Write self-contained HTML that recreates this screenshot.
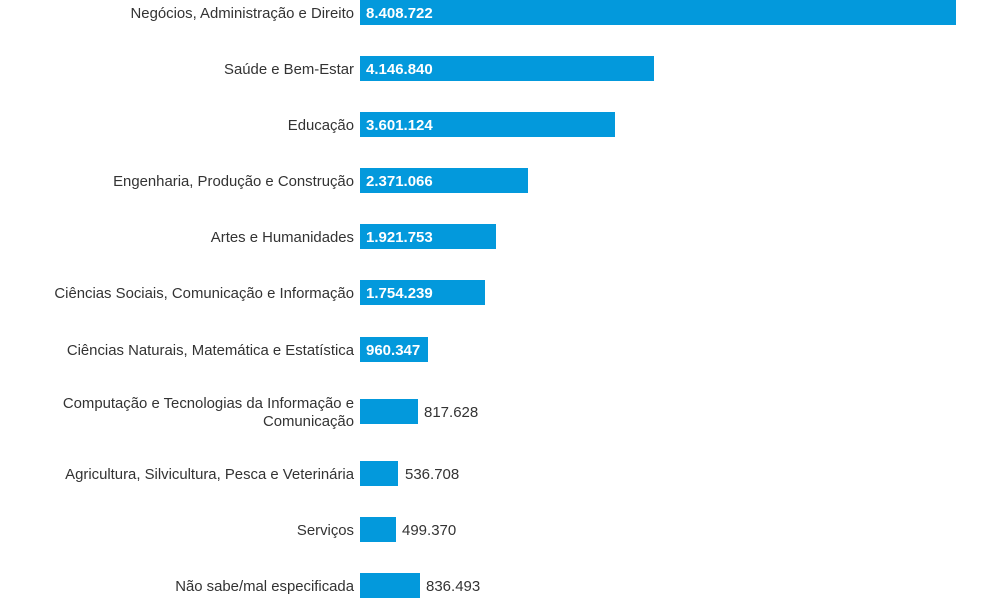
<!DOCTYPE html>
<html><head><meta charset="utf-8"><style>
body{margin:0;width:984px;height:612px;background:#fff;font-family:"Liberation Sans",sans-serif;position:relative;overflow:hidden}
.l{position:absolute;right:630px;font-size:14.9px;color:#333;text-align:right;line-height:18px;white-space:nowrap;margin-top:2px}
.b{position:absolute;left:360px;height:25px;background:#0399dc}
.v{position:absolute;font-size:15px;line-height:25px;margin-top:1px}
.in{color:#fff;font-weight:bold}
.out{color:#333}
</style></head><body>
<div class="b" style="top:0;width:596px"></div><div class="v in" style="top:0;left:366px">8.408.722</div><div class="l" style="top:3px">Negócios, Administração e Direito</div>
<div class="b" style="top:56px;width:294px"></div><div class="v in" style="top:56px;left:366px">4.146.840</div><div class="l" style="top:59px">Saúde e Bem-Estar</div>
<div class="b" style="top:112px;width:255px"></div><div class="v in" style="top:112px;left:366px">3.601.124</div><div class="l" style="top:115px">Educação</div>
<div class="b" style="top:168px;width:168px"></div><div class="v in" style="top:168px;left:366px">2.371.066</div><div class="l" style="top:171px">Engenharia, Produção e Construção</div>
<div class="b" style="top:224px;width:136px"></div><div class="v in" style="top:224px;left:366px">1.921.753</div><div class="l" style="top:227px">Artes e Humanidades</div>
<div class="b" style="top:280px;width:125px"></div><div class="v in" style="top:280px;left:366px">1.754.239</div><div class="l" style="top:283px">Ciências Sociais, Comunicação e Informação</div>
<div class="b" style="top:337px;width:68px"></div><div class="v in" style="top:337px;left:366px">960.347</div><div class="l" style="top:340px">Ciências Naturais, Matemática e Estatística</div>
<div class="b" style="top:399px;width:58px"></div><div class="v out" style="top:399px;left:424px">817.628</div><div class="l" style="top:393px">Computação e Tecnologias da Informação e<br>Comunicação</div>
<div class="b" style="top:461px;width:38px"></div><div class="v out" style="top:461px;left:405px">536.708</div><div class="l" style="top:464px">Agricultura, Silvicultura, Pesca e Veterinária</div>
<div class="b" style="top:517px;width:36px"></div><div class="v out" style="top:517px;left:402px">499.370</div><div class="l" style="top:520px">Serviços</div>
<div class="b" style="top:573px;width:60px"></div><div class="v out" style="top:573px;left:426px">836.493</div><div class="l" style="top:576px">Não sabe/mal especificada</div>
</body></html>
